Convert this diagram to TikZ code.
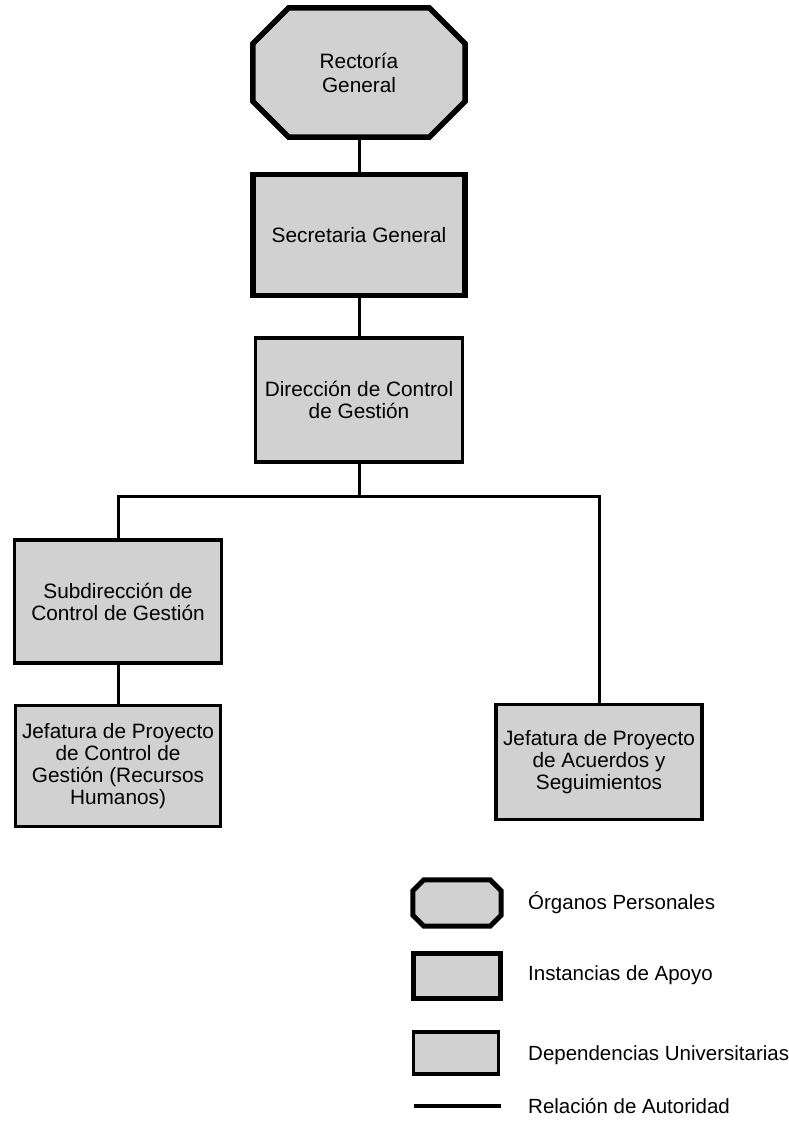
\documentclass[tikz,border=0pt]{standalone}
\usepackage{fontspec}
\setmainfont{Liberation Sans}
\usetikzlibrary{calc,backgrounds}
\definecolor{boxgray}{gray}{0.82}

% octagonal frame drawn behind a named node; #2 is the size of the cut corners
\newcommand\octagonframe[3]{%
  \begin{pgfonlayer}{background}
    \draw[line width=#3, line join=miter, fill=boxgray]
      ($(#1.north west)+(#2,0)$) -- ($(#1.north east)+(-#2,0)$) --
      ($(#1.north east)+(0,#2)$) -- ($(#1.south east)+(0,-#2)$) --
      ($(#1.south east)+(-#2,0)$) -- ($(#1.south west)+(#2,0)$) --
      ($(#1.south west)+(0,-#2)$) -- ($(#1.north west)+(0,#2)$) -- cycle;
  \end{pgfonlayer}}

\begin{document}
\begin{tikzpicture}[x=1pt,y=-1pt,
  unit/.style={align=center, inner sep=0pt,
    font=\fontsize{20.8}{22}\selectfont},
  organo/.style={unit},
  apoyo/.style={unit, draw, fill=boxgray, line width=5.5pt},
  dependencia/.style={unit, draw, fill=boxgray, line width=3.2pt},
  link/.style={line width=3pt},
  legendtext/.style={anchor=west, inner sep=0pt,
    font=\fontsize{20.5}{22}\selectfont}]

\useasboundingbox (0,0) rectangle (788,1125);

% organisation chart
\node[organo, minimum width=212, minimum height=129] (rect) at (359,72.5)
  {Rectoría\\[2pt]General};
\octagonframe{rect}{36}{5.5pt}

\node[apoyo, minimum width=212, minimum height=121] (sec) at (359,235)
  {Secretaria General};

\node[dependencia, minimum width=207, minimum height=124] (dir) at (359,400)
  {Dirección de Control\\de Gestión};

\node[dependencia, minimum width=207, minimum height=123] (sub) at (118,601.5)
  {Subdirección de\\Control de Gestión};

\node[dependencia, minimum width=205, minimum height=121] (jrh) at (118,766)
  {Jefatura de Proyecto\\de Control de\\Gestión (Recursos\\Humanos)};

\node[dependencia, minimum width=206, minimum height=115] (acu) at (599,762)
  {Jefatura de Proyecto\\de Acuerdos y\\Seguimientos};

% lines of authority
\coordinate (branch) at (359,496);
\draw[link] (rect.south) -- (sec.north);
\draw[link] (sec.south) -- (dir.north);
\draw[link] (dir.south) -- (branch);
\draw[link] (sub.north) |- (branch) -| (acu.north);
\draw[link] (sub.south) -- (jrh.north);

% legend
\node[organo, minimum width=88, minimum height=46] (lorg) at (457,903) {};
\octagonframe{lorg}{11}{5pt}
\node[legendtext] (torg) at (528,903) {Órganos Personales};

\node[apoyo, line width=5pt, minimum width=87, minimum height=45] (lapo) at (457,975.5) {};
\node[legendtext] (tapo) at (528,975.5) {Instancias de Apoyo};

\node[dependencia, minimum width=85, minimum height=42] (ldep) at (456,1053) {};
\node[legendtext] (tdep) at (528,1055) {Dependencias Universitarias};

\coordinate (lline1) at (414,1106);
\coordinate (lline2) at (501,1106);
\draw[link, line width=3.2pt] (lline1) -- (lline2);
\node[legendtext] (taut) at (528,1106) {Relación de Autoridad};
\end{tikzpicture}
\end{document}
